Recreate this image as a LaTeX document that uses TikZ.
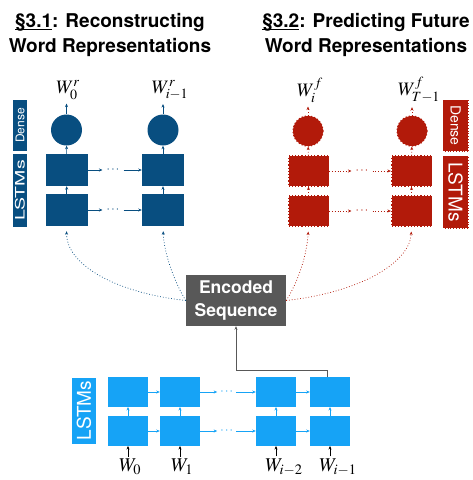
\documentclass[tikz,border=0pt]{standalone}
\usepackage{mathptmx}
\usepackage[no-math]{fontspec}
\setsansfont{TeX Gyre Heros}
\usepackage{graphicx}
\usetikzlibrary{arrows.meta,calc}
\definecolor{dkblue}{RGB}{8,78,128}
\definecolor{dkred}{RGB}{178,26,10}
\definecolor{ltblue}{RGB}{22,163,246}
\definecolor{encgray}{RGB}{88,88,88}
% underline drawn as a plain rule under a box
\newcommand\secref[1]{\setbox0\hbox{#1}\rlap{\rule[-2.6pt]{\wd0}{1.1pt}}\box0}

\begin{document}
\begin{tikzpicture}[x=1pt,y=-1pt,
  tip/.style={-{Stealth[length=3.5pt,width=3pt]}},
  link/.style={tip,line width=0.6pt},
  dlink/.style={tip,line width=0.8pt,dotted},
  cell/.style={rectangle,inner sep=0pt,minimum width=42pt,minimum height=32pt},
  bluecell/.style={cell,fill=dkblue},
  redcell/.style={cell,fill=dkred,draw=dkred,dotted,line width=1.2pt,minimum width=40pt,minimum height=30pt},
  ltcell/.style={cell,fill=ltblue,minimum width=40pt,minimum height=29.5pt},
  bluedense/.style={circle,inner sep=0pt,minimum size=31pt,fill=dkblue},
  reddense/.style={circle,inner sep=0pt,minimum size=30pt,fill=dkred,draw=dkred,dotted,line width=1.2pt},
  sidelab/.style={inner sep=0pt,text=white,font=\sffamily},
  dotsnode/.style={inner xsep=4pt,font=\fontsize{12}{12}\selectfont},
  wlab/.style={inner sep=2pt,font=\fontsize{19}{19}\selectfont},
  inlab/.style={inner sep=2pt,font=\fontsize{19.5}{19.5}\selectfont},
  title/.style={font=\sffamily\bfseries\fontsize{19}{24.5}\selectfont,align=center}
]
\useasboundingbox (0,0) rectangle (472,480);

% section titles
\node[title] (t1) at (110,35) {\secref{§3.1}: Reconstructing\\Word Representations};
\node[title] (t2) at (366,35) {\secref{§3.2}: Predicting Future\\Word Representations};

% ---------- reconstruction decoder (left) ----------
\node[sidelab,fill=dkblue,rotate=90,minimum width=51pt,minimum height=14pt,
      font=\sffamily\fontsize{12}{12}\selectfont] (ldense) at (20,125.5) {Dense};
\node[sidelab,fill=dkblue,rotate=90,minimum width=73pt,minimum height=14pt]
      (llstm) at (20,190.5) {\scalebox{1.5}[1]{\fontsize{13}{13}\selectfont LSTMs}};

\node[bluecell] (u1) at (66.7,170) {};
\node[bluecell] (l1) at (66.7,210) {};
\node[bluecell] (u2) at (163,170) {};
\node[bluecell] (l2) at (163,210) {};
\node[bluedense] (c1) at (66.5,130) {};
\node[bluedense] (c2) at (163,130) {};
\node[wlab] (w1) at (68,90) {$W_0^r$};
\node[wlab] (w2) at (170,90) {$W_{i-1}^r$};
\node[dotsnode,text=dkblue] (dA) at (113,170) {$\cdots$};
\node[dotsnode,text=dkblue] (dB) at (113,210) {$\cdots$};

\begin{scope}[dkblue]
\draw[link] (l1) -- (u1);
\draw[link] (l2) -- (u2);
\draw[link] (u1) -- (c1);
\draw[link] (u2) -- (c2);
\draw[link,shorten >=2pt] (c1.north) -- (c1.north |- w1.south);
\draw[link,shorten >=2pt] (c2.north) -- (c2.north |- w2.south);
\draw[link] (u1.east) -- (u1.east -| dA.west);
\draw[link] (dA.east |- u2.west) -- (u2.west);
\draw[link] (l1.east) -- (l1.east -| dB.west);
\draw[link] (dB.east |- l2.west) -- (l2.west);
\end{scope}

% ---------- future prediction decoder (right) ----------
\node[sidelab,fill=dkred,draw=dkred,dotted,line width=0.8pt,rotate=-90,minimum width=51pt,minimum height=25pt,
      font=\sffamily\fontsize{14}{14}\selectfont] (rdense) at (455.5,125.5) {Dense};
\node[sidelab,fill=dkred,draw=dkred,dotted,line width=0.8pt,rotate=-90,minimum width=72pt,minimum height=25pt,
      font=\sffamily\fontsize{19}{19}\selectfont] (rlstm) at (455.5,192) {LSTMs};

\node[redcell] (u3) at (308.5,171) {};
\node[redcell] (l3) at (308.5,211) {};
\node[redcell] (u4) at (411.5,171) {};
\node[redcell] (l4) at (411.5,211) {};
\node[reddense] (c3) at (308,131) {};
\node[reddense] (c4) at (412,131) {};
\node[wlab] (w3) at (310,90) {$W_i^f$};
\node[wlab] (w4) at (419,90) {$W_{T-1}^f$};
\node[dotsnode,text=dkred] (dC) at (362,171) {$\cdots$};
\node[dotsnode,text=dkred] (dD) at (362,211) {$\cdots$};

\begin{scope}[dkred]
\draw[dlink] (l3) -- (u3);
\draw[dlink] (l4) -- (u4);
\draw[dlink] (u3) -- (c3);
\draw[dlink] (u4) -- (c4);
\draw[dlink,shorten >=2pt] (c3.north) -- (c3.north |- w3.south);
\draw[dlink,shorten >=2pt] (c4.north) -- (c4.north |- w4.south);
\draw[dlink] (u3.east) -- (u3.east -| dC.west);
\draw[dlink] (dC.east |- u4.west) -- (u4.west);
\draw[dlink] (l3.east) -- (l3.east -| dD.west);
\draw[dlink] (dD.east |- l4.west) -- (l4.west);
\end{scope}

% ---------- encoder (bottom) ----------
\node[fill=encgray,text=white,font=\sffamily\bfseries\fontsize{17.5}{23}\selectfont,align=center,
      minimum width=100pt,minimum height=51pt,inner sep=0pt] (enc) at (236,300.5) {Encoded\\Sequence};

\node[sidelab,fill=ltblue,rotate=90,minimum width=66pt,minimum height=23.5pt,
      font=\sffamily\fontsize{19}{19}\selectfont] (blstm) at (84,410.5) {LSTMs};

\node[ltcell] (bu1) at (128,392) {};
\node[ltcell] (bl1) at (128,431) {};
\node[ltcell] (bu2) at (180,392) {};
\node[ltcell] (bl2) at (180,431) {};
\node[ltcell] (bu3) at (276,392) {};
\node[ltcell] (bl3) at (276,431) {};
\node[ltcell] (bu4) at (330,392) {};
\node[ltcell] (bl4) at (330,431) {};
\node[dotsnode,text=ltblue,inner xsep=3pt] (bd1) at (226.7,392) {$\cdots$};
\node[dotsnode,text=ltblue,inner xsep=3pt] (bd2) at (226.7,431) {$\cdots$};

\node[inlab] (x1) at (130,467) {$W_0$};
\node[inlab] (x2) at (182,467) {$W_1$};
\node[inlab] (x3) at (284,467) {$W_{i-2}$};
\node[inlab] (x4) at (338,467) {$W_{i-1}$};

\begin{scope}[ltblue]
\draw[link,line width=0.9pt] (bu1) -- (bu2);
\draw[link,line width=0.9pt] (bu2.east) -- (bu2.east -| bd1.west);
\draw[link,line width=0.9pt] (bd1.east |- bu3.west) -- (bu3.west);
\draw[link,line width=0.9pt] (bu3) -- (bu4);
\draw[link] (bl1) -- (bl2);
\draw[link] (bl2.east) -- (bl2.east -| bd2.west);
\draw[link] (bd2.east |- bl3.west) -- (bl3.west);
\draw[link] (bl3) -- (bl4);
\foreach \k in {1,...,4} \draw[link] (bl\k) -- (bu\k);
\end{scope}

\foreach \k in {1,...,4} \draw[link,black] (x\k.north -| bl\k.south) -- (bl\k.south);

\draw[link,encgray,line width=0.7pt] ($(bu4.north)+(-3,0)$) -- ++(0,-7) -| (enc.south);

% encoded state feeding both decoders
\draw[dlink,dkblue,line width=0.7pt,shorten >=5pt] (enc.west) .. controls (110,292) and (66,262) .. (l1.south);
\draw[dlink,dkblue,line width=0.7pt,shorten >=5pt] (enc.west) .. controls (176,285) and (164,255) .. (l2.south);
\draw[dlink,dkred,line width=0.7pt,shorten >=5pt] (enc.east) .. controls (298,282) and (307,255) .. (l3.south);
\draw[dlink,dkred,line width=0.7pt,shorten >=5pt] (enc.east) .. controls (362,292) and (410,262) .. (l4.south);
\end{tikzpicture}
\end{document}
